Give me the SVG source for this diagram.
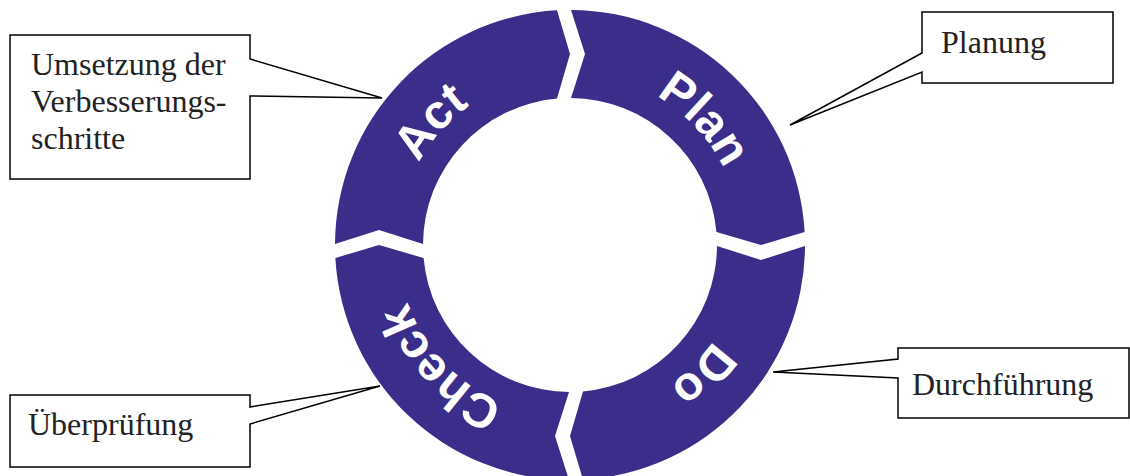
<svg xmlns="http://www.w3.org/2000/svg" width="1130" height="476" viewBox="0 0 1130 476">
<style>
.seg{fill:#3b2e8a;}
.lbl{font-family:"Liberation Sans",Arial,sans-serif;font-weight:bold;font-size:48px;fill:#ffffff;}
.box{fill:#ffffff;stroke:#000000;stroke-width:1.5;stroke-linejoin:miter;}
.txt{font-family:"Liberation Serif","Times New Roman",serif;font-size:32px;fill:#222222;}
</style>
<defs>
<path id="seg" d="M1,-235 A235,235 0 0 1 234.64,-13 L191,0 L146.42,-13 A147,147 0 0 0 1,-147 L15,-191 Z"/>
<path id="arc" d="M570,73 A172,172 0 1 1 570,417 A172,172 0 1 1 570,73"/>
</defs>
<g id="ring" transform="translate(570,245)">
<g id="plan-seg"><use href="#seg" class="seg"/></g>
<g id="do-seg"><use href="#seg" class="seg" transform="rotate(90)"/></g>
<g id="check-seg"><use href="#seg" class="seg" transform="rotate(180)"/></g>
<g id="act-seg"><use href="#seg" class="seg" transform="rotate(270)"/></g>
</g>
<g id="ring-labels">
<text class="lbl" text-anchor="middle"><textPath href="#arc" startOffset="140.5">Plan</textPath></text>
<text class="lbl" text-anchor="middle"><textPath href="#arc" startOffset="403">Do</textPath></text>
<text class="lbl" text-anchor="middle"><textPath href="#arc" startOffset="680">Check</textPath></text>
<text class="lbl" text-anchor="middle"><textPath href="#arc" startOffset="934.5">Act</textPath></text>
</g>
<g id="connectors"></g>
<g id="callout-act">
<path class="box" d="M10,35 H250 V59 L382,98 L250,96 V179 H10 Z"/>
<text class="txt" x="31" y="75">Umsetzung der</text>
<text class="txt" x="31" y="112">Verbesserungs-</text>
<text class="txt" x="31" y="149">schritte</text>
</g>
<g id="callout-plan">
<path class="box" d="M922,12 H1113 V83 H922 V72 L790,125 L922,53 Z"/>
<text class="txt" x="941" y="53">Planung</text>
</g>
<g id="callout-do">
<path class="box" d="M898,348 H1129 V418 H898 V378 L773,372 L898,359 Z"/>
<text class="txt" x="912" y="395">Durchführung</text>
</g>
<g id="callout-check">
<path class="box" d="M10,395 H250 V407 L380,386 L250,424 V467 H10 Z"/>
<text class="txt" x="28" y="435">Überprüfung</text>
</g>
</svg>
